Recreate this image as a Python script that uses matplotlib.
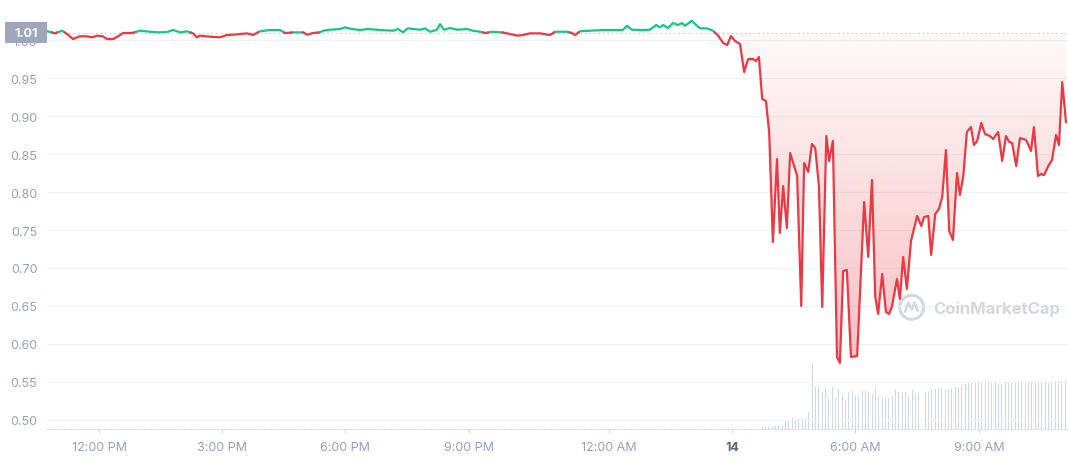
import numpy as np
import matplotlib
matplotlib.use("Agg")
import matplotlib.pyplot as plt
import matplotlib.transforms as mtransforms
from matplotlib.path import Path
from matplotlib.patches import PathPatch, Rectangle, Circle
from matplotlib.lines import Line2D

plt.rcParams['font.family'] = ['Inter', 'DejaVu Sans']

# price, hours since left edge of the chart
hours = [0.02, 0.19, 0.37, 0.49, 0.63, 0.80, 0.97, 1.09, 1.22, 1.36, 1.46, 1.61, 1.73, 1.85,
         2.07, 2.26, 2.51, 2.75, 2.94, 3.07, 3.24, 3.41, 3.55, 3.65, 3.72, 3.97, 4.21, 4.38,
         4.53, 4.70, 4.87, 5.01, 5.18, 5.43, 5.67, 5.79, 5.99, 6.23, 6.33, 6.47, 6.64, 6.72,
         6.89, 7.13, 7.25, 7.42, 7.62, 7.81, 8.03, 8.10, 8.42, 8.54, 8.66, 8.78, 9.08, 9.20,
         9.32, 9.49, 9.56, 9.66, 9.81, 9.98, 10.22, 10.36, 10.54, 10.66, 10.83, 11.07, 11.27,
         11.44, 11.58, 11.75, 12.00, 12.24, 12.36, 12.65, 12.77, 12.85, 12.97, 13.21, 13.53,
         13.87, 14.01, 14.11, 14.23, 14.50, 14.67, 14.82, 14.91, 14.99, 15.11, 15.23, 15.35,
         15.45, 15.52, 15.69, 15.77, 15.89, 16.06, 16.20, 16.33,
         16.45, 16.55, 16.64, 16.74, 16.86, 16.96, 17.06, 17.18, 17.25, 17.32, 17.40, 17.49,
         17.57, 17.66, 17.76, 17.83, 17.91, 18.00, 18.08, 18.25, 18.35, 18.42, 18.52, 18.61,
         18.69, 18.78, 18.86, 18.96, 19.03, 19.12, 19.22, 19.29, 19.37, 19.46, 19.56, 19.71,
         19.88, 19.98, 20.07, 20.15, 20.22, 20.32, 20.41, 20.49, 20.56, 20.68, 20.75, 20.83,
         20.92, 21.02, 21.17, 21.27, 21.34, 21.44, 21.51, 21.61, 21.70, 21.78, 21.87, 21.95,
         22.04, 22.14, 22.21, 22.29, 22.38, 22.48, 22.55, 22.63, 22.73, 22.82, 22.94, 23.02,
         23.14, 23.24, 23.33, 23.41, 23.48, 23.58, 23.67, 23.82, 23.94, 24.01, 24.11, 24.19,
         24.26, 24.36, 24.45, 24.55, 24.62, 24.70, 24.79]
price = [1.0121, 1.0094, 1.0129, 1.0085, 1.0019, 1.0055, 1.0055, 1.0042, 1.0063, 1.0055, 1.0019,
         1.0019, 1.0055, 1.0098, 1.0098, 1.0129, 1.0115, 1.0107, 1.0115, 1.0138, 1.0107, 1.0121,
         1.0094, 1.0042, 1.0063, 1.0050, 1.0042, 1.0072, 1.0076, 1.0085, 1.0094, 1.0072, 1.0121,
         1.0138, 1.0138, 1.0098, 1.0107, 1.0107, 1.0076, 1.0098, 1.0107, 1.0129, 1.0142, 1.0151,
         1.0173, 1.0151, 1.0138, 1.0151, 1.0142, 1.0138, 1.0129, 1.0151, 1.0107, 1.0160, 1.0142,
         1.0160, 1.0115, 1.0142, 1.0217, 1.0142, 1.0164, 1.0142, 1.0151, 1.0129, 1.0115, 1.0098,
         1.0115, 1.0107, 1.0085, 1.0063, 1.0072, 1.0094, 1.0094, 1.0072, 1.0115, 1.0115, 1.0098,
         1.0072, 1.0121, 1.0129, 1.0138, 1.0138, 1.0138, 1.0194, 1.0142, 1.0138, 1.0142, 1.0204,
         1.0173, 1.0204, 1.0164, 1.0230, 1.0204, 1.0230, 1.0194, 1.0260, 1.0217, 1.0160, 1.0160,
         1.0129, 1.0063,
         0.9966, 0.9940, 1.0059, 0.9993, 0.9953, 0.9584, 0.9755, 0.9755, 0.9729, 0.9782, 0.9228,
         0.9202, 0.8793, 0.7343, 0.8437, 0.7461, 0.8081, 0.7527, 0.8516, 0.8213, 0.6499, 0.8384,
         0.8266, 0.8635, 0.8582, 0.8081, 0.6486, 0.8740, 0.8411, 0.8675, 0.5827, 0.5748, 0.6961,
         0.6974, 0.5827, 0.5840, 0.7870, 0.7145, 0.8160, 0.6618, 0.6394, 0.6921, 0.6420, 0.6394,
         0.6499, 0.6855, 0.6592, 0.7145, 0.6723, 0.7356, 0.7686, 0.7554, 0.7672, 0.7686, 0.7172,
         0.7712, 0.7778, 0.7936, 0.8556, 0.7488, 0.7369, 0.8253, 0.7963, 0.8200, 0.8793, 0.8859,
         0.8622, 0.8675, 0.8912, 0.8767, 0.8740, 0.8701, 0.8793, 0.8411, 0.8740, 0.8661, 0.8648,
         0.8345, 0.8714, 0.8688, 0.8543, 0.8859, 0.8213, 0.8240, 0.8226, 0.8345, 0.8424, 0.8754,
         0.8622, 0.9452, 0.8925]
open_price = 1.0105

# volume bars (5 min), arbitrary units, from 17.40 h on
vol_start = 17.40
vol_step = 0.081
volume = [1.5, 1.5, 2.1, 2.1, 2.7, 3.6, 2.7, 7.5, 8.1, 9.6, 8.1, 8.7, 8.7, 9.6, 15.6, 59.1,
          38.1, 38.1, 32.1, 38.1, 28.2, 38.1, 28.2, 36.0, 30.6, 25.2, 33.6, 34.5, 30.0, 29.7,
          34.5, 35.1, 33.6, 31.2, 35.7, 30.6, 28.2, 27.6, 27.6, 30.0, 36.0, 33.6, 31.2, 33.6,
          30.6, 35.1, 31.5, 32.1, 33.0, 33.6, 34.2, 36.0, 36.0, 37.2, 37.5, 35.1, 36.0, 36.6,
          37.5, 38.1, 39.0, 40.2, 42.6, 42.6, 42.6, 43.2, 42.6, 43.2, 43.2, 42.6, 42.0, 40.2,
          40.2, 42.6, 42.6, 42.6, 42.0, 42.0, 42.6, 42.6, 42.0, 42.6, 43.2, 42.6, 42.6, 42.0,
          41.1, 43.2, 43.2, 43.2, 43.2, 43.2]

tick_hours = [1.27, 4.26, 7.25, 10.27, 13.67, 16.67, 19.66, 22.68]
tick_labels = ['12:00 PM', '3:00 PM', '6:00 PM', '9:00 PM', '12:00 AM', '14', '6:00 AM', '9:00 AM']
y_ticks = [0.50, 0.55, 0.60, 0.65, 0.70, 0.75, 0.80, 0.85, 0.90, 0.95, 1.00]

GREEN = '#16c784'
RED = '#ea3943'
GREY = '#9aa0b1'
x_max = 24.84
y_min, y_max = 0.4877, 1.0547


def split_at_base(t, p, base):
    # add a point wherever the line crosses the open price
    tt, pp = [t[0]], [p[0]]
    for i in range(1, len(t)):
        if (p[i - 1] - base) * (p[i] - base) < 0:
            f = (base - p[i - 1]) / (p[i] - p[i - 1])
            tt.append(t[i - 1] + f * (t[i] - t[i - 1]))
            pp.append(base)
        tt.append(t[i])
        pp.append(p[i])
    return np.array(tt), np.array(pp)


fig = plt.figure(figsize=(10.68, 4.6), dpi=100)
ax = fig.add_axes([47 / 1068, 30 / 460, 1 - 47 / 1068, 1 - 30 / 460])
vax = ax.twinx()
ax.set_zorder(vax.get_zorder() + 1)
ax.patch.set_visible(False)

# volume
vol_t = vol_start + vol_step * np.arange(len(volume))
vax.bar(vol_t, volume, width=0.024, color='#cfd6e4', linewidth=0)
vax.set_ylim(0, 387)
vax.set_yticks([])
for s in vax.spines.values():
    s.set_visible(False)

tt, pp = split_at_base(hours, price, open_price)


def gradient_fill(mask, c, a_bottom, a_top, lo, hi):
    coll = ax.fill_between(tt, pp, open_price, where=mask, facecolor='none',
                           edgecolor='none', interpolate=True)
    paths = coll.get_paths()
    if not paths:
        return
    clip = PathPatch(Path.make_compound_path(*paths), transform=ax.transData,
                     facecolor='none', edgecolor='none')
    ax.add_patch(clip)
    rgb = matplotlib.colors.to_rgb(c)
    n = 256
    grad = np.zeros((n, 1, 4))
    grad[:, 0, :3] = rgb
    grad[:, 0, 3] = np.linspace(a_bottom, a_top, n)
    im = ax.imshow(grad, extent=[0, x_max, lo, hi], aspect='auto', origin='lower', zorder=1)
    im.set_clip_path(clip)


gradient_fill(pp <= open_price, RED, 0.32, 0.03, min(price), open_price)
gradient_fill(pp >= open_price, GREEN, 0.0, 0.08, open_price, max(price))

up = np.where(pp >= open_price, pp, np.nan)
down = np.where(pp <= open_price, pp, np.nan)
ax.plot(tt, up, color=GREEN, lw=1.6, zorder=3, solid_joinstyle='round')
ax.plot(tt, down, color=RED, lw=1.6, zorder=3, solid_joinstyle='round')

ax.axhline(open_price, color='#b8bdca', lw=0.8, ls=(0, (1, 3)), zorder=2)

ax.set_xlim(0, x_max)
ax.set_ylim(y_min, y_max)
ax.set_yticks(y_ticks)
ax.set_yticklabels([f'{v:.2f}' for v in y_ticks])
ax.grid(axis='y', color='#eff2f5', lw=0.8)
ax.set_axisbelow(True)
ax.set_xticks(tick_hours)
ax.set_xticklabels(tick_labels)
ax.tick_params(axis='y', length=0, pad=7, labelsize=9, labelcolor=GREY)
ax.tick_params(axis='x', length=3, width=0.8, color='#cfd6e4', pad=6,
               labelsize=9, labelcolor=GREY)
for lab in ax.get_xticklabels():
    if lab.get_text() == '14':
        lab.set_fontweight('bold')
        lab.set_color('#58667e')
for s in ['top', 'right', 'left']:
    ax.spines[s].set_visible(False)
ax.spines['bottom'].set_color('#cfd6e4')
ax.spines['bottom'].set_linestyle((0, (1, 2)))
ax.spines['bottom'].set_linewidth(0.8)

# open price tag
blend = mtransforms.blended_transform_factory(ax.transAxes, ax.transData)
ax.add_patch(Rectangle((-0.0411, open_price - 0.0136), 0.0411, 0.0272, transform=blend,
                       facecolor='#a1a7bb', edgecolor='none', clip_on=False, zorder=10))
ax.text(-0.0206, open_price, '1.01', transform=blend, ha='center', va='center',
        color='white', fontsize=9, fontweight='bold', zorder=11, clip_on=False)

# watermark
wm = '#d3d7e0'
fig.add_artist(Circle((9.117, 1.517), 0.12, transform=fig.dpi_scale_trans,
                      fill=False, edgecolor=wm, lw=2.2))
mx = np.array([-0.065, -0.035, 0.0, 0.03, 0.06]) + 9.117
my = np.array([-0.04, 0.045, -0.02, 0.045, -0.03]) + 1.517
fig.add_artist(Line2D(mx, my, transform=fig.dpi_scale_trans, color=wm, lw=2.0))
fig.text(933 / 1068, (460 - 309) / 460, 'CoinMarketCap', fontsize=12, fontweight='bold',
         color=wm, va='center', ha='left')

fig.savefig('out.png', dpi=100)
